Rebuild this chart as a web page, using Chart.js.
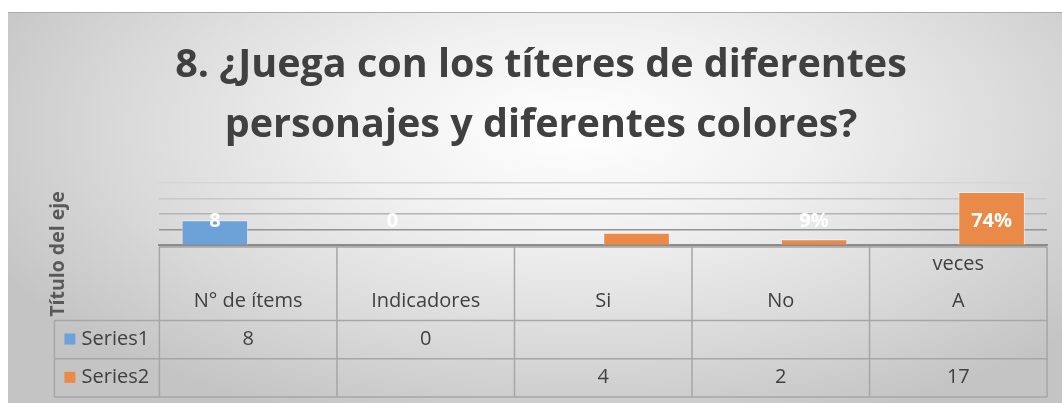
<!DOCTYPE html>
<html>
<head>
<meta charset="utf-8">
<script src="https://cdn.jsdelivr.net/npm/chart.js@4.4.1/dist/chart.umd.min.js"></script>
<style>
  html, body { margin: 0; padding: 0; background: #fff; }
  #frame {
    position: absolute; left: 8px; top: 12px; width: 1054px; height: 391px;
    background: radial-gradient(ellipse 62% 80% at 54% 30%, #ffffff 0%, #f0f0f0 35%, #d8d8d8 72%, #c4c4c4 100%);
    box-shadow: inset 0 1px 0 #ababab;
  }
  canvas { position: absolute; left: 0; top: 0; }
</style>
</head>
<body>
<div id="frame"><canvas id="chart" width="1054" height="391"></canvas></div>
<script>
const titleLines = ['8. ¿Juega con los títeres de diferentes', 'personajes y diferentes colores?'];
const categories = ['N° de ítems', 'Indicadores', 'Si', 'No', ['veces', 'A']];
const seriesNames = ['Series1', 'Series2'];
const series1 = [8, 0, null, null, null];
const series2 = [null, null, 4, 2, 17];
const series1Labels = ['8', '0', '', '', ''];
const series2Labels = ['', '', '', '9%', '74%'];
const yTicks = [0, 5, 10, 15, 20];
const axisTitle = 'Título del eje';

const COLORS = ['#6ca2d8', '#ea8a48'];
const TEXT = '#404040';
const LINE = '#a6a6a6';
const FONT = '"Open Sans"';

// the chart sits on top, the data table fills the x axis box
const HEADER_H = 75;
const ROW_H = 38.3;
const TABLE_LEFT = 46.4;

const gridColor = ctx => {
  switch (ctx.tick && ctx.tick.value) {
    case 0: return '#8c8c8c';
    case 5: return '#939393';
    case 10: return '#b4b4b4';
    case 15: return '#c8c8c8';
    default: return '#d6d6d6';
  }
};

const tablePlugin = {
  id: 'tablePlugin',
  afterDraw(chart) {
    const { ctx, chartArea, scales } = chart;
    const x = scales.x;
    const y = scales.y;
    const bottom = chartArea.bottom;
    const step = x.getPixelForValue(1) - x.getPixelForValue(0);

    ctx.save();

    // title
    ctx.fillStyle = TEXT;
    ctx.textAlign = 'center';
    ctx.textBaseline = 'alphabetic';
    ctx.font = `bold 39.5px ${FONT}`;
    titleLines.forEach((line, i) => ctx.fillText(line, 533, 64.7 + i * 60));

    // axis title
    ctx.save();
    ctx.translate(50.5, 242);
    ctx.rotate(-Math.PI / 2);
    ctx.font = `bold 19.5px ${FONT}`;
    ctx.fillStyle = '#595959';
    ctx.textBaseline = 'middle';
    ctx.fillText(axisTitle, 0, 0);
    ctx.restore();

    // data labels
    ctx.font = `bold 20px ${FONT}`;
    ctx.fillStyle = '#ffffff';
    ctx.textBaseline = 'middle';
    const labelY = y.getPixelForValue(7.6);
    [series1Labels, series2Labels].forEach((labels, d) => {
      const meta = chart.getDatasetMeta(d);
      labels.forEach((txt, i) => {
        if (txt) ctx.fillText(txt, meta.data[i].x, labelY);
      });
    });

    // table lines
    const colLeft = i => x.getPixelForValue(i) - step / 2;
    const right = colLeft(categories.length);
    const rows = [bottom + HEADER_H, bottom + HEADER_H + ROW_H, bottom + HEADER_H + 2 * ROW_H];
    ctx.strokeStyle = LINE;
    ctx.lineWidth = 1.5;
    ctx.beginPath();
    ctx.moveTo(colLeft(0), bottom + 1.5);
    ctx.lineTo(right, bottom + 1.5);
    rows.forEach(r => { ctx.moveTo(TABLE_LEFT, r); ctx.lineTo(right, r); });
    for (let i = 0; i <= categories.length; i++) {
      ctx.moveTo(colLeft(i), bottom + 1.5);
      ctx.lineTo(colLeft(i), rows[2]);
    }
    ctx.moveTo(TABLE_LEFT, rows[0]);
    ctx.lineTo(TABLE_LEFT, rows[2]);
    ctx.stroke();

    // header labels, bottom aligned
    ctx.font = `20px ${FONT}`;
    ctx.fillStyle = TEXT;
    categories.forEach((cat, i) => {
      const lines = Array.isArray(cat) ? cat : [cat];
      const cx = x.getPixelForValue(i);
      lines.forEach((line, k) => {
        ctx.fillText(line, cx, bottom + 56.3 - (lines.length - 1 - k) * 37);
      });
    });

    // series rows
    [series1, series2].forEach((vals, d) => {
      const cy = rows[d] + ROW_H / 2 - 0.5;
      ctx.fillStyle = COLORS[d];
      ctx.fillRect(56.4, cy - 5.5, 11, 11);
      ctx.fillStyle = TEXT;
      ctx.textAlign = 'left';
      ctx.fillText(seriesNames[d], 73.6, cy);
      ctx.textAlign = 'center';
      vals.forEach((v, i) => {
        if (v !== null) ctx.fillText(String(v), x.getPixelForValue(i), cy);
      });
    });

    ctx.restore();
  },
};

new Chart(document.getElementById('chart'), {
  type: 'bar',
  data: {
    labels: categories,
    datasets: [
      { label: seriesNames[0], data: series1, backgroundColor: COLORS[0] },
      { label: seriesNames[1], data: series2, backgroundColor: COLORS[1] },
    ],
  },
  options: {
    responsive: false,
    devicePixelRatio: 1,
    animation: false,
    layout: { padding: { top: 170.7, right: 14.9, bottom: 0, left: 0 } },
    datasets: {
      bar: {
        categoryPercentage: 0.75,
        barPercentage: 1,
        borderColor: 'rgba(255,255,255,0.45)',
        borderWidth: 1,
      },
    },
    plugins: {
      legend: { display: false },
      title: { display: false },
      tooltip: { enabled: false },
    },
    scales: {
      x: {
        grid: { display: false },
        border: { color: '#8c8c8c', width: 2 },
        ticks: { display: false },
        afterFit: scale => { scale.height = 391 - 233.4; },
      },
      y: {
        min: 0,
        max: 20,
        afterBuildTicks: scale => { scale.ticks = yTicks.map(value => ({ value })); },
        grid: { color: gridColor, drawTicks: false, lineWidth: 1.5 },
        border: { display: false },
        ticks: { display: false },
        afterFit: scale => { scale.width = 151.4; },
      },
    },
  },
  plugins: [tablePlugin],
});
</script>
</body>
</html>
